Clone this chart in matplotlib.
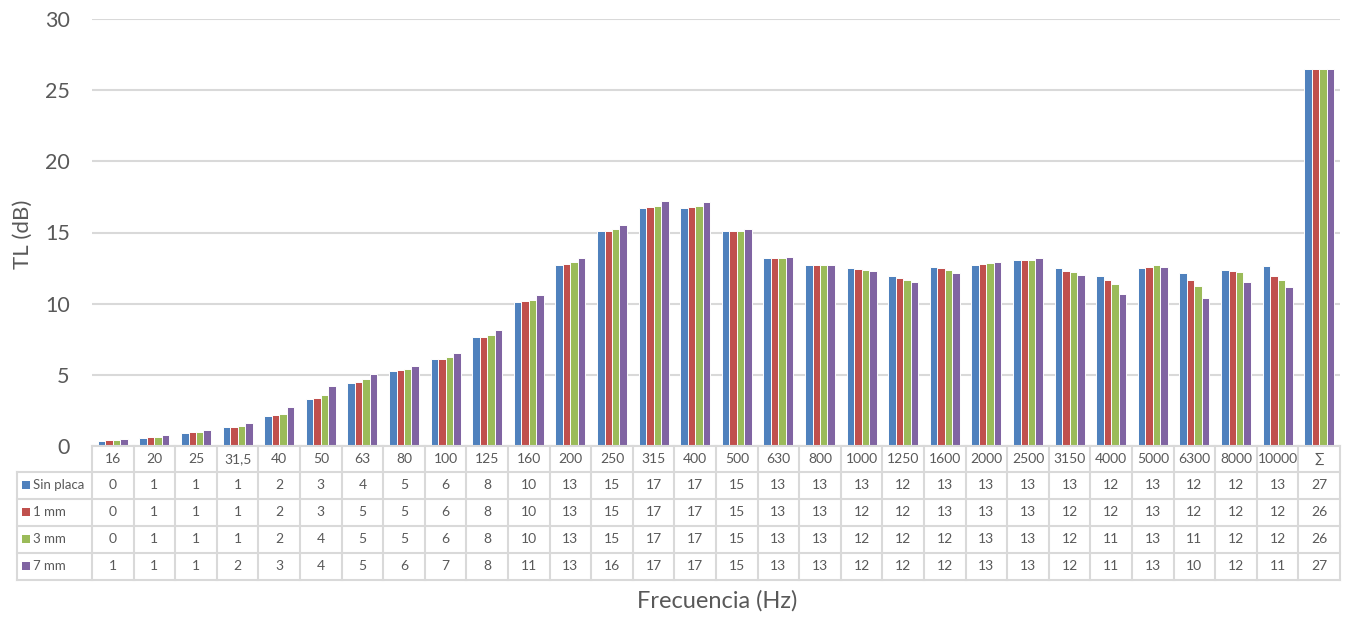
import matplotlib
matplotlib.use("Agg")
import matplotlib.pyplot as plt
from matplotlib.transforms import blended_transform_factory, Affine2D
from matplotlib.patches import Rectangle
import numpy as np

# Frequency bands (third-octave) plus overall value
bands = ["16", "20", "25", "31,5", "40", "50", "63", "80", "100", "125", "160",
         "200", "250", "315", "400", "500", "630", "800", "1000", "1250", "1600",
         "2000", "2500", "3150", "4000", "5000", "6300", "8000", "10000", "∑"]

series_names = ["Sin placa", "1 mm", "3 mm", "7 mm"]

tl_sin_placa = [0.35, 0.58, 0.94, 1.31, 2.09, 3.28, 4.43, 5.28, 6.08, 7.63, 10.09,
                12.75, 15.09, 16.71, 16.71, 15.09, 13.19, 12.75, 12.52, 11.97, 12.60,
                12.75, 13.05, 12.52, 11.92, 12.50, 12.18, 12.37, 12.68, 26.52]
tl_1mm = [0.40, 0.63, 0.96, 1.36, 2.15, 3.37, 4.52, 5.32, 6.13, 7.68, 10.16,
          12.79, 15.14, 16.78, 16.78, 15.12, 13.19, 12.75, 12.45, 11.83, 12.52,
          12.78, 13.05, 12.32, 11.64, 12.60, 11.69, 12.32, 11.94, 26.48]
tl_3mm = [0.42, 0.61, 0.98, 1.43, 2.27, 3.56, 4.71, 5.42, 6.24, 7.82, 10.28,
          12.91, 15.23, 16.87, 16.85, 15.14, 13.19, 12.70, 12.38, 11.69, 12.35,
          12.84, 13.10, 12.20, 11.36, 12.75, 11.27, 12.23, 11.69, 26.47]
tl_7mm = [0.52, 0.77, 1.15, 1.62, 2.72, 4.20, 5.08, 5.65, 6.52, 8.12, 10.58,
          13.24, 15.56, 17.20, 17.11, 15.28, 13.26, 12.75, 12.32, 11.55, 12.16,
          12.96, 13.19, 12.04, 10.70, 12.57, 10.37, 11.52, 11.17, 26.51]

series_values = [tl_sin_placa, tl_1mm, tl_3mm, tl_7mm]
colors = ["#4F81BD", "#C0504D", "#9BBB59", "#8064A2"]

y_ticks = [0, 5, 10, 15, 20, 25, 30]

TEXT = "#595959"
GRID = "#D9D9D9"
FONT = "Lato"

W, H = 1349, 617
fig = plt.figure(figsize=(W / 100, H / 100), dpi=100)
fig.patch.set_facecolor("white")

# plot area in pixel coordinates
left_px, right_px, top_px, bottom_px = 92, 1340, 19, 446
ax = fig.add_axes([left_px / W, 1 - bottom_px / H,
                   (right_px - left_px) / W, (bottom_px - top_px) / H])

n_cat = len(bands)
x = np.arange(n_cat) + 0.5
bw = 0.18
offsets = (np.arange(4) - 1.5) * bw
for vals, col, off, name in zip(series_values, colors, offsets, series_names):
    ax.bar(x + off, vals, width=bw, color=col, edgecolor="white",
           linewidth=0.7, label=name, zorder=3)

ax.set_xlim(0, n_cat)
ax.set_ylim(0, 30)
ax.set_yticks(y_ticks)
ax.set_yticklabels([str(t) for t in y_ticks], fontsize=15.5, color=TEXT,
                   fontfamily=FONT)
ax.tick_params(axis="y", length=0, pad=16)
ax.set_xticks([])
ax.grid(axis="y", color=GRID, linewidth=1.5, zorder=0)
for s in ax.spines.values():
    s.set_visible(False)

# y axis title
ax.text(23 / W, 1 - 234 / H, "TL (dB)", transform=fig.transFigure,
        rotation=90, ha="center", va="center", fontsize=16, color=TEXT,
        fontfamily=FONT)

# data table below the plot: x follows categories, y in figure pixels
ypx = Affine2D().scale(1, -1).translate(0, H)
trans = blended_transform_factory(ax.transData, ypx)
px_per_cat = (right_px - left_px) / n_cat
label_left = (17 - left_px) / px_per_cat

row_edges = [446, 471.5, 498.5, 525.5, 552.5, 579.5]
line_kw = dict(color=GRID, linewidth=1.5, transform=trans, clip_on=False, zorder=4)

# horizontal borders
ax.plot([0, n_cat], [row_edges[0]] * 2, **line_kw)
for yy in row_edges[1:]:
    ax.plot([label_left, n_cat], [yy, yy], **line_kw)
# vertical borders
ax.plot([label_left, label_left], [row_edges[1], row_edges[-1]], **line_kw)
for i in range(n_cat + 1):
    ax.plot([i, i], [row_edges[0], row_edges[-1]], **line_kw)

# header row: band names
hdr_y = (row_edges[0] + row_edges[1]) / 2
for xi, b in zip(x, bands):
    ax.text(xi, hdr_y, b, transform=trans, ha="center", va="center",
            fontsize=10, color=TEXT, fontfamily=FONT, clip_on=False)

# one row per series: swatch, name and rounded values
sw_px = 8
for r, (name, col, vals) in enumerate(zip(series_names, colors, series_values)):
    cy = (row_edges[r + 1] + row_edges[r + 2]) / 2
    sw_x = label_left + 5 / px_per_cat
    ax.add_patch(Rectangle((sw_x, cy + sw_px / 2), sw_px / px_per_cat, -sw_px,
                           facecolor=col, edgecolor="none", transform=trans,
                           clip_on=False, zorder=5))
    ax.text(sw_x + (sw_px + 3) / px_per_cat, cy, name, transform=trans,
            ha="left", va="center", fontsize=9.5, color=TEXT, fontfamily=FONT,
            clip_on=False)
    for xi, v in zip(x, vals):
        ax.text(xi, cy, str(int(np.floor(v + 0.5))), transform=trans,
                ha="center", va="center", fontsize=10, color=TEXT,
                fontfamily=FONT, clip_on=False)

# x axis title
ax.text(717 / W, 1 - 601 / H, "Frecuencia (Hz)", transform=fig.transFigure,
        ha="center", va="center", fontsize=17, color=TEXT, fontfamily=FONT)

fig.savefig("out.png", dpi=100, facecolor="white")
